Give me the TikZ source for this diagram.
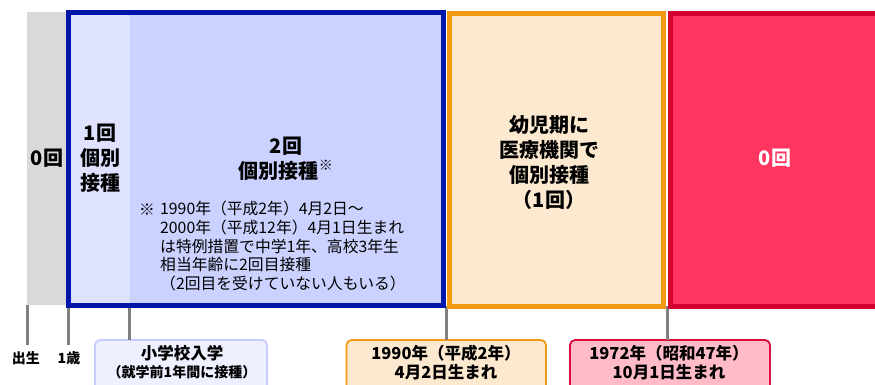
\documentclass[tikz,border=0pt]{standalone}
\usepackage{fontspec}
\setmainfont{Noto Sans CJK JP}
\usetikzlibrary{fit}
\definecolor{zgray}{RGB}{217,217,217}
\definecolor{tickgray}{RGB}{128,128,128}
\definecolor{blueline}{RGB}{0,22,170}
\definecolor{bluefill}{RGB}{204,210,255}
\definecolor{bluelight}{RGB}{222,226,255}
\definecolor{orline}{RGB}{243,154,20}
\definecolor{orfill}{RGB}{253,233,207}
\definecolor{redline}{RGB}{214,0,48}
\definecolor{redfill}{RGB}{255,53,96}
\definecolor{schfill}{RGB}{238,240,255}
\definecolor{schline}{RGB}{198,204,255}
\definecolor{pinkfill}{RGB}{255,188,200}
\definecolor{pinkline}{RGB}{222,12,60}
\newcommand\myfs[2]{\fontsize{#1}{#2}\selectfont}
\begin{document}
\begin{tikzpicture}[x=1pt,y=-1pt,
  region/.style={inner sep=0pt, outer sep=0pt},
  tickline/.style={draw=tickgray, line width=3pt},
  bigtxt/.style={inner sep=0pt, align=center, font=\myfs{20}{25}\bfseries},
  notetxt/.style={inner sep=0pt, align=left, font=\myfs{15.8}{18.7}},
  ticktxt/.style={inner sep=0pt, font=\myfs{14}{16}\bfseries},
  lblbox/.style={region, rounded corners=5pt, line width=1.8pt},
  lbltxt/.style={inner sep=0pt, align=center, font=\myfs{16.5}{19}\bfseries}]
\useasboundingbox (0,0) rectangle (875,384);

% label boxes at the bottom
\node[lblbox, fit={(95,340) (267,400)}, fill=schfill, draw=schline] (sch) {};
\node[lblbox, fit={(346.5,340) (546,400)}, fill=orfill, draw=orline] (b90) {};
\node[lblbox, fit={(570,340) (770,400)}, fill=pinkfill, draw=pinkline] (b72) {};

% tick marks
\coordinate (d0) at (27,305);
\coordinate (e0) at (27,345);
\coordinate (d1) at (68.5,306);
\coordinate (e1) at (68.5,345);
\coordinate (d2) at (129.5,306);
\coordinate (d3) at (446.5,306);
\coordinate (d4) at (667,306);
\draw[tickline] (d0) -- (e0);
\draw[tickline] (d1) -- (e1);
\draw[tickline] (d2) -- (d2 |- sch.north);
\draw[tickline] (d3) -- (d3 |- b90.north);
\draw[tickline] (d4) -- (d4 |- b72.north);

% regions
\node[region, fit={(27,12) (66,305)}, fill=zgray] (gray) {};
\node[region, fit={(68.5,12.5) (443.5,305.5)}, fill=bluefill] (blue) {};
\fill[bluelight] (71,15) rectangle (130,303);
\draw[blueline, line width=5pt] (blue.north west) rectangle (blue.south east);
\node[region, fit={(449.5,13) (663.5,306)}, fill=orfill, draw=orline, line width=5pt] (orange) {};
\node[region, fit={(670,13) (890,306)}, fill=redfill, draw=redline, line width=5pt] (red) {};

% texts
\node[bigtxt] (zero) at (47,158) {0回};
\node[bigtxt] (one) at (100,158) {1回\\個別\\接種};
\node[bigtxt] (two) at (286,158.5) {2回\\個別接種\textsuperscript{※}};
\node[notetxt] (ast) at (147,210) {※};
\node[notetxt, anchor=north west] (note) at (160,201) {1990年（平成2年）4月2日～\\2000年（平成12年）4月1日生まれ\\は特例措置で中学1年、高校3年生\\相当年齢に2回目接種\\（2回目を受けていない人もいる）};
\node[bigtxt] (inf) at (549,162.5) {幼児期に\\医療機関で\\個別接種\\（1回）};
\node[bigtxt, text=white] (zero2) at (775,158) {0回};

\node[ticktxt] (birth) at (26,358) {出生};
\node[ticktxt] (age1) at (69,358) {1歳};

\node[lbltxt] (schA) at (182,353) {小学校入学};
\node[inner sep=0pt, font=\myfs{14}{16}\bfseries] (schB) at (182,372) {（就学前1年間に接種）};
\node[lbltxt] (t90) at (446,362.5) {1990年（平成2年）\\4月2日生まれ};
\node[lbltxt] (t72) at (669,362.5) {1972年（昭和47年）\\10月1日生まれ};
\end{tikzpicture}
\end{document}
